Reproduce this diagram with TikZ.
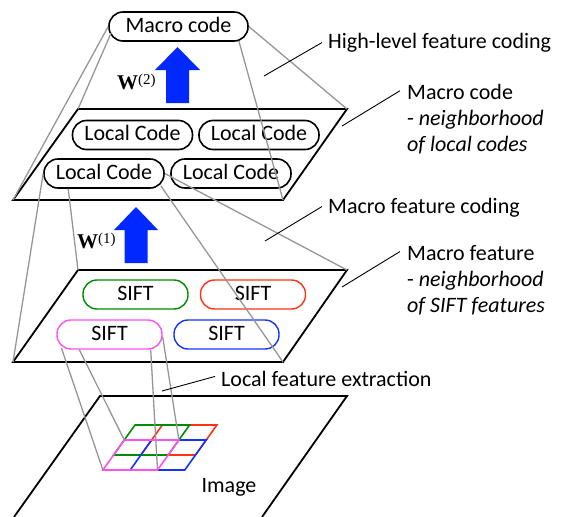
\documentclass[tikz,border=0pt]{standalone}
\usepackage{fontspec}
\setmainfont{Carlito}
\newfontfamily\wfont{Liberation Serif}
\usetikzlibrary{calc}
\definecolor{sgreen}{RGB}{0,140,0}
\definecolor{sred}{RGB}{255,50,20}
\definecolor{smag}{RGB}{255,80,240}
\definecolor{sblue}{RGB}{20,50,255}
\definecolor{abl}{RGB}{0,40,255}
\definecolor{lgray}{RGB}{150,150,150}
\tikzset{
  txt/.style={font=\fontsize{22}{26}\selectfont, inner sep=0pt, anchor=base west},
  box/.style={draw, line width=1.6pt, rounded corners=14pt, minimum height=29pt,
    inner xsep=0pt, inner ysep=0pt, text height=16pt, text depth=4.4pt,
    font=\fontsize{22}{26}\selectfont},
  sbox/.style={box, line width=1.4pt, minimum width=105pt},
  lcbox/.style={box, minimum width=120pt},
  plane/.style={draw=black, line width=1.8pt, line join=miter},
  gline/.style={draw=lgray, line width=1.3pt},
  leader/.style={draw=black, line width=0.9pt},
  cell/.style={line width=1.6pt, line join=miter},
  wlab/.style={inner sep=0pt, anchor=base west},
  bigarrow/.style={fill=abl}
}
\newcommand{\wlabel}[1]{{\wfont\fontsize{21}{24}\selectfont\bfseries W}\raisebox{5pt}{\wfont\fontsize{15}{18}\selectfont(#1)}}
\begin{document}
\begin{tikzpicture}[x=1pt,y=-1pt]
\useasboundingbox (0,0) rectangle (574,517);

% plane corners
\coordinate (uTL) at (78,109);  \coordinate (uTR) at (347,109);
\coordinate (uBR) at (283,200); \coordinate (uBL) at (13,200);
\coordinate (lTL) at (78,270);  \coordinate (lTR) at (347,270);
\coordinate (lBR) at (283,362); \coordinate (lBL) at (13,362);
\coordinate (iTL) at (100,396); \coordinate (iTR) at (347,396);
\coordinate (iBL) at (14,517);  \coordinate (iBR) at (262,517);

% planes
\draw[plane] (uTL) -- (uTR) -- (uBR) -- (uBL) -- cycle;
\draw[plane] (lTL) -- (lTR) -- (lBR) -- (lBL) -- cycle;
\draw[plane] (iBL) -- (iTL) -- (iTR) -- (iBR);

% image grid
\foreach \i in {0,...,3} {
  \foreach \j in {0,...,3} {
    \coordinate (g\i\j) at ({135+27.3*\i-10.7*\j},{425+15*\j});
  }
}
\draw[cell, sred]  (g10) -- (g30) -- (g32) -- (g12) -- cycle;
\draw[cell, sgreen](g00) -- (g20) -- (g22) -- (g02) -- cycle;
\draw[cell, sblue] (g11) -- (g31) -- (g33) -- (g13) -- cycle;
\draw[cell, smag]  (g01) -- (g21) -- (g23) -- (g03) -- cycle;

% boxes
\node[box, minimum width=139pt] (mc) at (178.5,26.5) {Macro code};
\node[lcbox] (lc1) at (132.5,135) {Local Code};
\node[lcbox] (lc2) at (259,135) {Local Code};
\node[lcbox] (lc3) at (104,173.5) {Local Code};
\node[lcbox] (lc4) at (231,173.5) {Local Code};
\node[sbox, draw=sgreen] (s1) at (135.5,294.5) {SIFT};
\node[sbox, draw=sred]   (s2) at (253,294.5) {SIFT};
\node[sbox, draw=smag]   (s3) at (109.5,334.5) {SIFT};
\node[sbox, draw=sblue]  (s4) at (226.5,334.5) {SIFT};

% pyramid lines
\draw[gline] (mc.west) -- (uBL);
\draw[gline] ($(mc.south west)+(3,-9)$) -- (uTL);
\draw[gline] (mc.east) -- (uTR);
\draw[gline] ($(mc.south east)+(-10,-1)$) -- (uBR);

\draw[gline] (lc3.west) -- (lBL);
\draw[gline] ($(lc3.south west)+(25,0)$) -- (lTL);
\draw[gline] (lc3.east) -- (lTR);
\draw[gline] ($(lc3.south east)+(-4,-3)$) -- (lBR);

\draw[gline] ($(s3.south west)+(5,-2)$) -- (g03);
\draw[gline] ($(s3.south west)+(23,0)$) -- (g01);
\draw[gline] ($(s3.south east)+(-12,0)$) -- (g23);
\draw[gline] ($(s3.east)+(0,2.5)$) -- (g21);

% blue arrows
\fill[bigarrow] (166,103) -- (166,70) -- (155,70) -- (177.5,47) -- (200,70) -- (189,70) -- (189,103) -- cycle;
\fill[bigarrow] (124.5,263) -- (124.5,230) -- (114,230) -- (136,207) -- (158,230) -- (147.5,230) -- (147.5,263) -- cycle;
\node[wlab] (w2) at (117,89) {\wlabel{2}};
\node[wlab] (w1) at (77,248.5) {\wlabel{1}};

% labels
\node[txt] (t1) at (328,48.3) {High-level feature coding};
\node[txt] (t2a) at (407,99.3) {Macro code};
\node[txt] (t2b) at (407,125.5) {- \textit{neighborhood}};
\node[txt] (t2c) at (407,151.7) {\textit{of local codes}};
\node[txt] (t3) at (328,213.3) {Macro feature coding};
\node[txt] (t4a) at (407,260) {Macro feature};
\node[txt] (t4b) at (407,286.3) {- \textit{neighborhood}};
\node[txt] (t4c) at (407,312.7) {\textit{of SIFT features}};
\node[txt] (t5) at (221,386) {Local feature extraction};
\node[txt, anchor=base] (t6) at (229,492.7) {Image};

% leader lines
\coordinate (p1) at (264,76);
\coordinate (p2) at (342,126);
\coordinate (p3) at (265,241);
\coordinate (p4) at (342,287);
\coordinate (p5) at (162,391);
\draw[leader] ($(t1.west)+(-6,0)$) -- (p1);
\draw[leader] ($(t2a.west)+(-7,-1)$) -- (p2);
\draw[leader] ($(t3.west)+(-6,-1)$) -- (p3);
\draw[leader] ($(t4a.west)+(-7,-1)$) -- (p4);
\draw[leader] ($(t5.west)+(-6,-2)$) -- (p5);
\end{tikzpicture}
\end{document}
